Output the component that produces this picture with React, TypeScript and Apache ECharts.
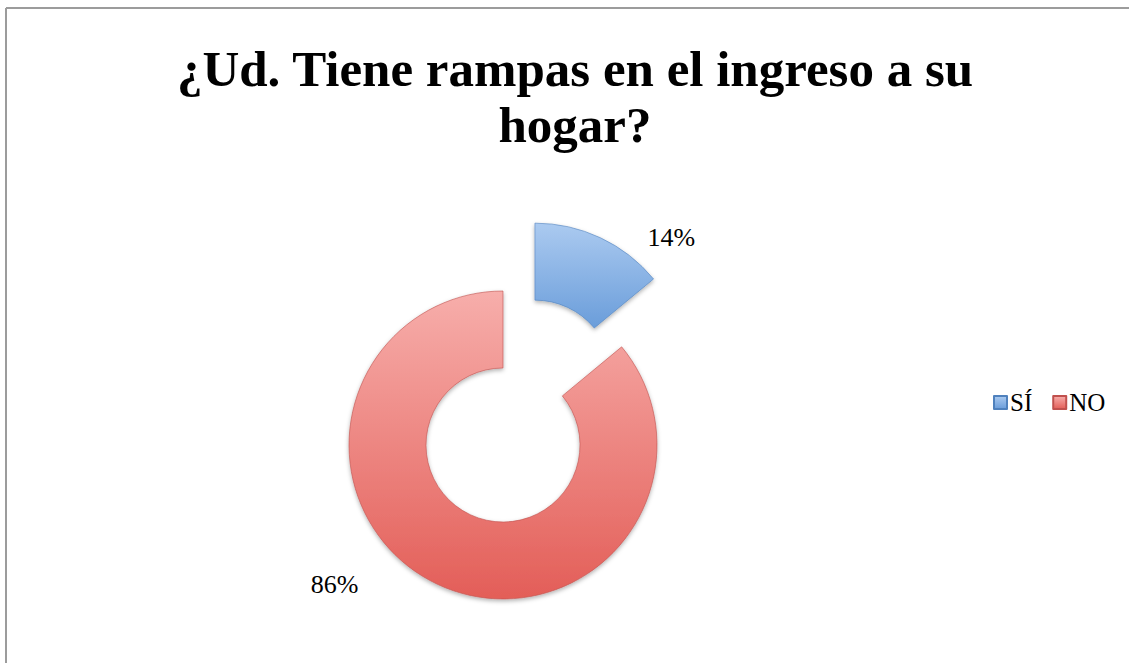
import React, { useEffect, useRef } from "react";
import * as echarts from "echarts";

const titleText = "¿Ud. Tiene rampas en el ingreso a su\nhogar?";
const categories = ["SÍ", "NO"];
const values = [14, 86];
const topColors = ["#abcaf0", "#f7aeab"];
const bottomColors = ["#6a9dda", "#e35e58"];
const borderColors = ["#4f81bd", "#c0504d"];
const labelLen2 = [42, 74];

export default function App() {
  const ref = useRef<HTMLDivElement>(null);
  useEffect(() => {
    document.body.style.margin = "0";
    document.body.style.overflow = "hidden";
    document.documentElement.style.overflow = "hidden";
    const chart = echarts.init(ref.current!, null, { renderer: "svg" });
    const data = categories.map((name, i) => ({
      name,
      value: values[i],
      selected: i === 0,
      itemStyle: {
        color: new echarts.graphic.LinearGradient(0, 0, 0, 1, [
          { offset: 0, color: topColors[i] },
          { offset: 1, color: bottomColors[i] },
        ]),
        borderColor: borderColors[i],
        borderWidth: 0.6,
        shadowColor: "rgba(0,0,0,0.3)",
        shadowBlur: 4,
        shadowOffsetY: 2,
      },
      labelLine: { show: false, length: 0, length2: labelLen2[i] },
    }));
    chart.setOption({
      animation: false,
      backgroundColor: "#ffffff",
      title: {
        text: titleText,
        left: 570,
        top: 36,
        textAlign: "center",
        textStyle: {
          fontFamily: "Liberation Serif",
          fontWeight: "bold",
          fontSize: 51,
          lineHeight: 56,
          color: "#000",
        },
      },
      legend: {
        data: categories,
        left: 988,
        top: 385,
        icon: "rect",
        itemWidth: 13,
        itemHeight: 13,
        itemGap: 20,
        textStyle: { fontFamily: "Liberation Serif", fontSize: 25, color: "#000", padding: [0, 0, 0, -2] },
      },
      graphic: [
        {
          type: "line",
          shape: { x1: 6, y1: 8, x2: 1135, y2: 8 },
          style: { stroke: "#9c9c9c", lineWidth: 2 },
          silent: true,
        },
        {
          type: "line",
          shape: { x1: 6, y1: 8, x2: 6, y2: 670 },
          style: { stroke: "#9c9c9c", lineWidth: 2 },
          silent: true,
        },
      ],
      series: [
        {
          type: "pie",
          center: [503, 445],
          radius: [77, 154],
          startAngle: 90,
          clockwise: true,
          selectedMode: "single",
          selectedOffset: 75,
          avoidLabelOverlap: false,
          label: {
            show: true,
            position: "outside",
            formatter: "{d}%",
            fontFamily: "Liberation Serif",
            fontSize: 26,
            color: "#000",
          },
          emphasis: { disabled: true },
          data,
        },
      ],
    });
    return () => chart.dispose();
  }, []);
  return <div ref={ref} style={{ position: "absolute", left: 0, top: 0, width: 1129, height: 663 }} />;
}
